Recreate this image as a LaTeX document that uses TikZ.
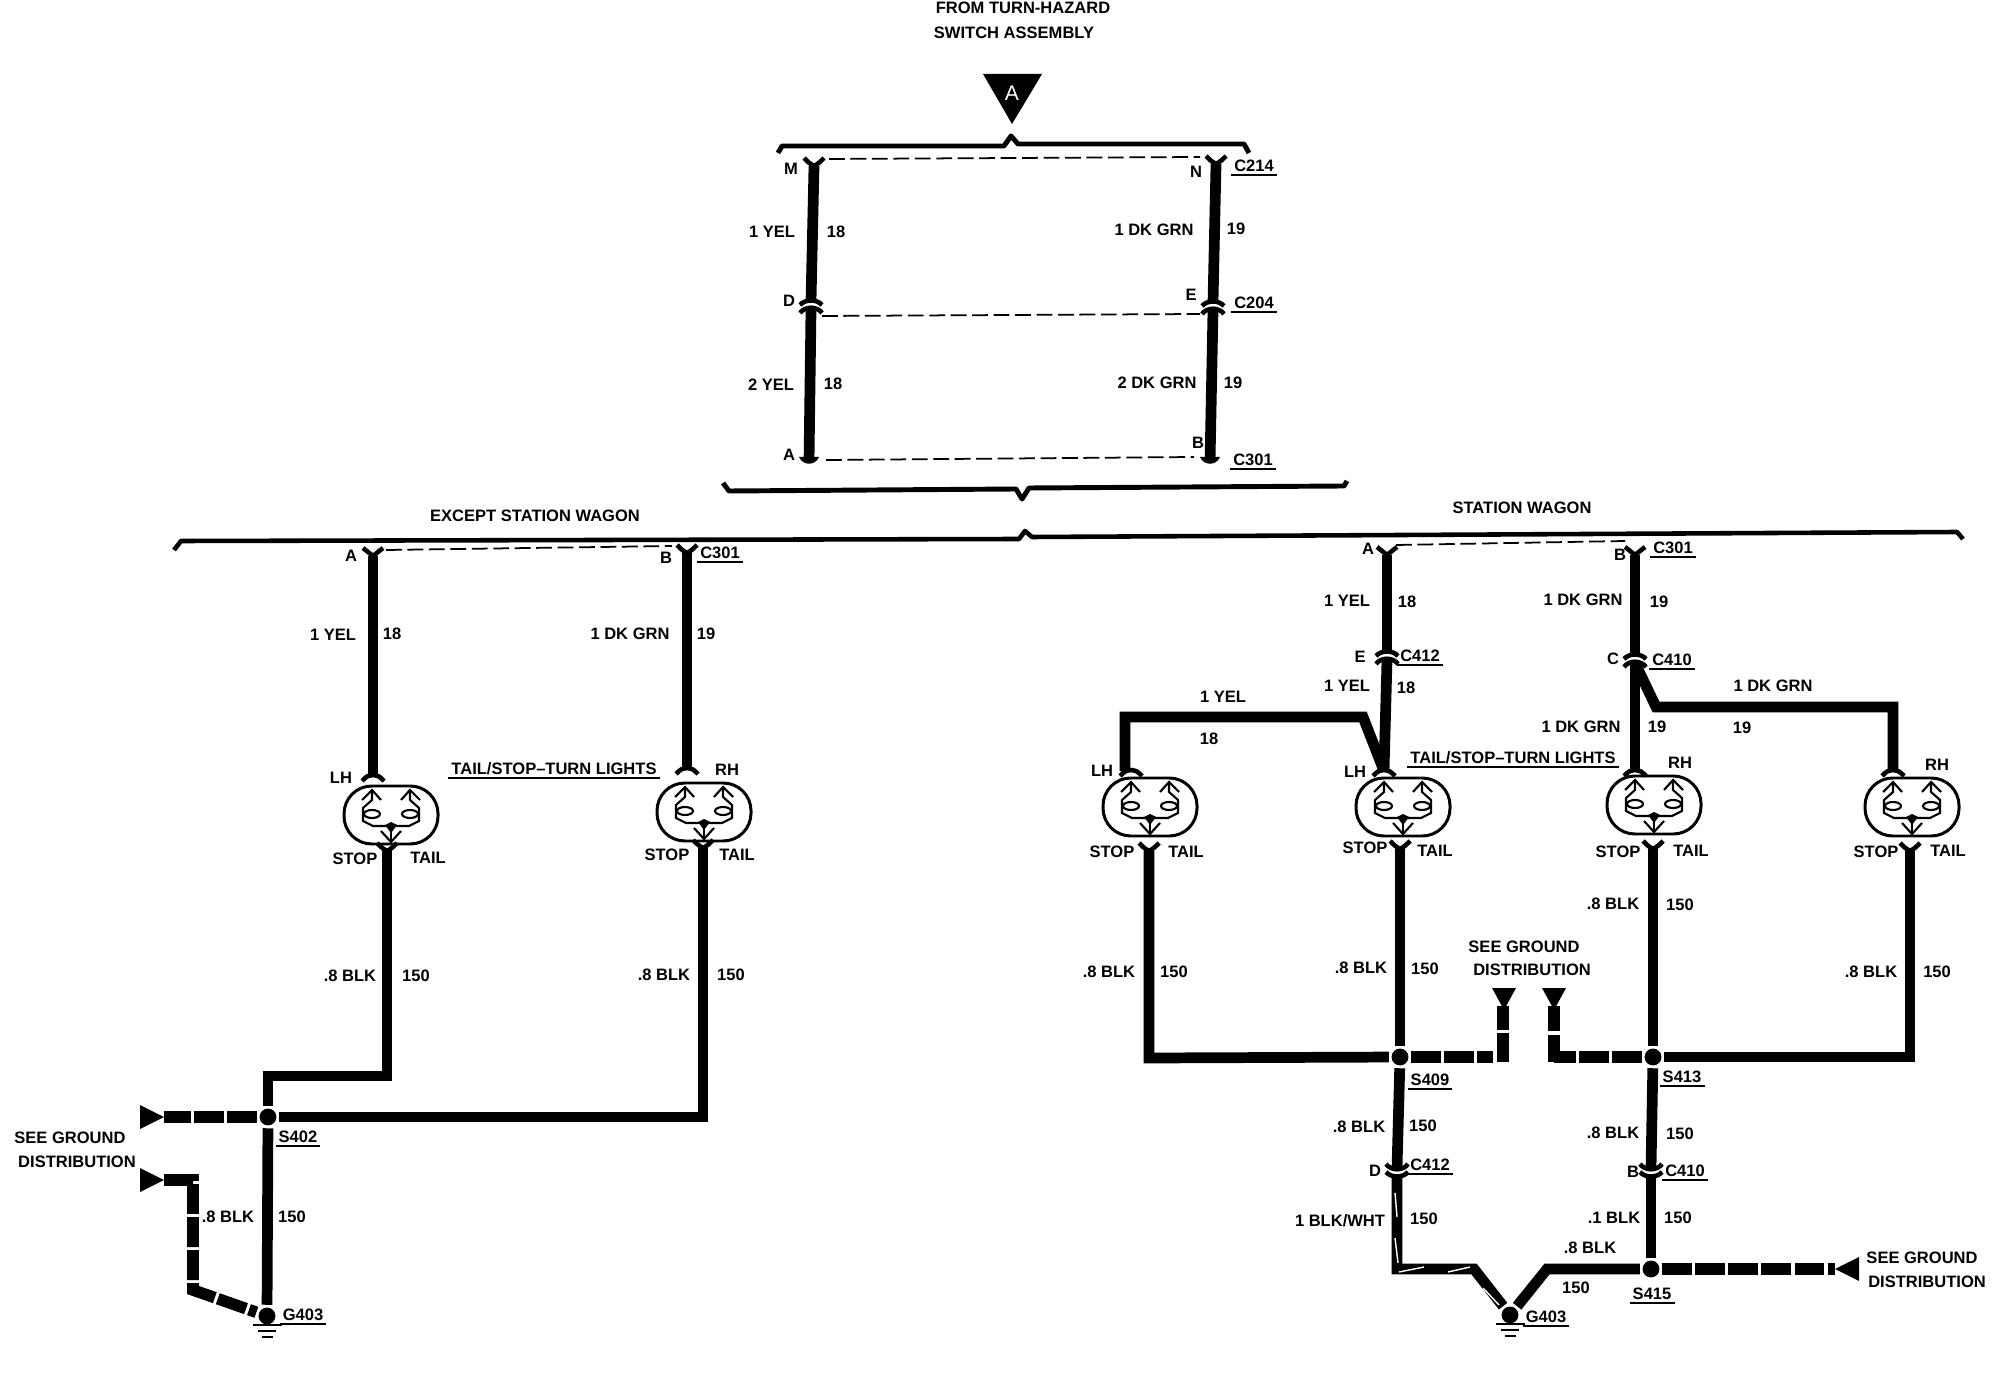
\documentclass[tikz,border=0pt]{standalone}
\usepackage{fontspec}
\setmainfont{Liberation Sans}
\tikzset{
	wire/.style={line width=3.05pt},
	gndwire/.style={line width=3.3pt,dash pattern=on 8.5pt off .9pt},
	gndstub/.style={line width=3.4pt},
	dashline/.style={line width=.5pt,dash pattern=on 4.5pt off 1.6pt},
	brace/.style={line width=1.4pt,line join=round},
	thinbrace/.style={line width=1.3pt,line join=round},
	fork/.style={line width=1.3pt},
	tracer/.style={white,line width=.4pt},
	wirelabel/.style={font=\bfseries\fontsize{4.7}{5.5}\selectfont,inner sep=.7pt},
	tagrule/.style={line width=.6pt},
	splice/.style={circle,fill,draw=none,inner sep=0pt,minimum size=4.8pt,outer sep=.8pt},
	gndbar/.style={line width=.6pt},
	forkup/.pic={\draw[fork] (-10,-8) .. controls (-5,-3) .. (0,0) .. controls (5,-3) .. (10,-8);\draw[line width=1.6pt] (0,-3) -- (0,3);},
	forkdown/.pic={\draw[fork] (-11,5) .. controls (-6,0) .. (0,-1) .. controls (6,0) .. (11,5);},
	forkcap/.pic={\fill (-10,-5) .. controls (-6,4) and (6,4) .. (10,-5) -- cycle;},
	inlinecap/.pic={
		\draw[fork] (-11,-2) .. controls (-6,-8) and (6,-8) .. (11,-2);
		\draw[fork] (-11,6) .. controls (-6,-1) and (6,-1) .. (11,6);
	},
	gndtri/.pic={\fill (0,0) -- (-24,-12) -- (-24,12) -- cycle;},
	gnddrop/.pic={\fill (0,0) -- (-12,-22) -- (12,-22) -- cycle;},
	taillamp/.pic={
		\draw[line width=.85pt,rounded corners=7.9pt] (-47,-29) rectangle (47,29);
		\foreach \s in {-1,1}
		{
			\draw[line width=.6pt] (\s*29,-15) -- (\s*19,-25) -- (\s*10,-15);
			\draw[line width=.6pt] (\s*19,-25) -- (\s*19,-15) -- (\s*28,-7) -- (\s*28,6) -- (\s*18,11) -- (\s*4,11);
			\draw[line width=.6pt] (\s*19,-1) ellipse (8 and 4);
		}
		\fill (-6,10) -- (0,7) -- (6,10) -- (0,18) -- cycle;
		\draw[line width=.6pt] (-10,16) -- (0,27) -- (10,16);
		\draw[line width=.6pt] (0,14) -- (0,27);
	}
}
\begin{document}
\begin{tikzpicture}[x=0.01cm,y=-0.01cm]
	\useasboundingbox (0,0) rectangle (1992,1392);

	\foreach \lx/\ly/\txt [count=\i] in {
		1023/8/FROM TURN-HAZARD,1014/33/SWITCH ASSEMBLY,
		791/169/M,1196/172/N,772/232/1 YEL,836/232/18,1154/230/1 DK GRN,1236/229/19,
		789/301/D,1191/295/E,771/385/2 YEL,833/384/18,1157/383/2 DK GRN,1233/383/19,
		789/455/A,1198/443/B,535/516/EXCEPT STATION WAGON,1522/508/STATION WAGON,
		351/556/A,666/558/B,333/635/1 YEL,392/634/18,630/634/1 DK GRN,706/634/19,
		341/778/LH,727/770/RH,355/859/STOP,428/858/TAIL,667/855/STOP,737/855/TAIL,
		350/976/.8 BLK,416/976/150,664/975/.8 BLK,731/975/150,
		70/1138/SEE GROUND,77/1162/DISTRIBUTION,228/1217/.8 BLK,292/1217/150,
		1368/549/A,1620/555/B,1347/601/1 YEL,1407/602/18,1583/600/1 DK GRN,1659/602/19,
		1360/657/E,1613/659/C,1347/686/1 YEL,1406/688/18,1223/697/1 YEL,1209/739/18,
		1773/686/1 DK GRN,1742/728/19,1581/727/1 DK GRN,1657/727/19,
		1102/771/LH,1355/772/LH,1680/763/RH,1937/765/RH,
		1112/852/STOP,1186/852/TAIL,1365/848/STOP,1435/851/TAIL,
		1618/852/STOP,1691/851/TAIL,1876/852/STOP,1948/851/TAIL,
		1109/972/.8 BLK,1174/972/150,1361/968/.8 BLK,1425/969/150,
		1613/904/.8 BLK,1680/905/150,1871/972/.8 BLK,1937/972/150,
		1524/947/SEE GROUND,1532/970/DISTRIBUTION,
		1359/1127/.8 BLK,1423/1126/150,1613/1133/.8 BLK,1680/1134/150,
		1375/1171/D,1633/1172/B,1340/1221/{1 BLK/WHT},1424/1219/150,
		1614/1218/.1 BLK,1678/1218/150,1590/1248/.8 BLK,1576/1288/150,
		1922/1258/SEE GROUND,1927/1282/DISTRIBUTION
	}
		\node[wirelabel] (lbl\i) at (\lx,\ly) {\txt};

	\foreach \lx/\ly/\txt [count=\i] in {
		1254/166/C214,1254/303/C204,1253/460/C301,720/553/C301,
		554/769/{TAIL/STOP--TURN LIGHTS},1513/758/{TAIL/STOP--TURN LIGHTS},
		298/1137/S402,303/1315/G403,1673/548/C301,1420/656/C412,1672/660/C410,
		1430/1080/S409,1682/1077/S413,1430/1165/C412,1685/1171/C410,
		1652/1294/S415,1546/1317/G403
	}
	{
		\node[wirelabel] (tag\i) at (\lx,\ly) {\txt};
		\draw[tagrule] (tag\i.south west) -- (tag\i.south east);
	}

	\fill (983,74) -- (1042,74) -- (1012,124) -- cycle;
	\node[font=\fontsize{6}{7}\selectfont,white,inner sep=0pt] (swA) at (1012,93) {A};
	\draw[brace] (778,153) -- (782,146) -- (1004,146) -- (1011,136) -- (1018,144) -- (1244,144) -- (1249,153);
	\draw[brace] (723,483) -- (729,491) -- (1016,489) -- (1022,499) -- (1029,488) -- (1344,486) -- (1347,481);
	\draw[thinbrace] (174,550) -- (181,541) -- (1019,539) -- (1025,531) -- (1032,537) -- (1957,532) -- (1963,539);

	\foreach \ax/\ay/\bx/\by [count=\i] in {
		829/159/1200/157,822/316/1200/314,826/460/1194/457,
		386/550/672/546,1396/545/1625/541
	}
	{
		\coordinate (dl\i) at (\ax,\ay);
		\coordinate (dr\i) at (\bx,\by);
		\draw[dashline] (dl\i) -- (dr\i);
	}

	\coordinate (M) at (814,166);
	\coordinate (Dup) at (811,301);
	\coordinate (Ddn) at (811,309);
	\coordinate (Aend) at (809,462);
	\coordinate (N) at (1216,164);
	\coordinate (Eup) at (1213,302);
	\coordinate (Edn) at (1213,310);
	\coordinate (Bend) at (1210,462);
	\draw[wire] (M) -- (Dup);
	\draw[wire] (Ddn) -- (Aend);
	\draw[wire] (N) -- (Eup);
	\draw[wire] (Edn) -- (Bend);
	\pic at (M) {forkup};
	\pic at (N) {forkup};
	\pic at (811,307) {inlinecap};
	\pic at (1213,308) {inlinecap};
	\pic at (Aend) {forkcap};
	\pic at (Bend) {forkcap};

	\foreach \lx/\ly [count=\i] in {391/815,704/812,1150/807,1403/807,1654/805,1912/807}
		\pic (lamp\i) at (\lx,\ly) {taillamp};

	\foreach \lx/\ly/\nm in {373/556/ta,687/553/tb,1387/555/tc,1635/555/td,
		387/851/fa,703/848/fb,1149/851/fc,1400/849/fd,1653/849/fe,1910/851/ff}
	{
		\coordinate (\nm) at (\lx,\ly);
		\pic at (\nm) {forkup};
	}
	\foreach \lx/\ly/\nm in {373/776/la,687/769/lb,1384/771/ld,1635/771/le,1893/771/lf}
	{
		\coordinate (\nm) at (\lx,\ly);
		\pic at (\nm) {forkdown};
	}
	\coordinate (lc) at (1125,771);
	\pic at (1131,771) {forkdown};

	\node[splice] (s402) at (268,1117) {};
	\node[splice] (g403a) at (267,1316) {};
	\node[splice] (s409) at (1400,1057) {};
	\node[splice] (s413) at (1653,1057) {};
	\node[splice] (s415) at (1651,1269) {};
	\node[splice] (g403b) at (1510,1315) {};

	\foreach \gx/\gy in {267/1316,1510/1315}
	{
		\draw[gndbar] (\gx-14,\gy+9) -- (\gx+15,\gy+9);
		\draw[gndbar] (\gx-9,\gy+15) -- (\gx+9,\gy+15);
		\draw[gndbar] (\gx-5,\gy+21) -- (\gx+6,\gy+21);
	}

	\draw[wire] (ta) -- (la);
	\draw[wire] (tb) -- (lb);
	\draw[wire] (fa) -- (387,1076) -- (268,1076) -- (s402);
	\draw[wire] (fb) -- (703,1117) -- (s402);
	\draw[wire] (s402) -- (g403a);

	\coordinate (gtipa) at (164,1117);
	\coordinate (gtipb) at (164,1180);
	\draw[gndwire] (s402) -- (gtipa);
	\draw[gndwire] (gtipb) -- (193,1180) -- (193,1290) -- (g403a);
	\pic at (gtipa) {gndtri};
	\pic at (gtipb) {gndtri};

	\coordinate (c412up) at (1387,652);
	\coordinate (c412dn) at (1387,660);
	\coordinate (c410up) at (1635,655);
	\coordinate (c410dn) at (1635,663);
	\draw[wire] (tc) -- (c412up);
	\draw[wire] (c412dn) -- (ld);
	\draw[wire] (td) -- (c410up);
	\draw[wire] (c410dn) -- (le);
	\pic at (1387,658) {inlinecap};
	\pic at (1635,661) {inlinecap};
	\draw[wire] (lc) -- (1125,717) -- (1363,717) -- (ld);
	\draw[wire] (c410dn) -- (1656,707) -- (1893,707) -- (lf);

	\draw[wire] (fc) -- (1149,1058) -- (s409);
	\draw[wire] (fd) -- (s409);
	\draw[wire] (fe) -- (s413);
	\draw[wire] (ff) -- (1910,1057) -- (s413);

	\coordinate (gtipc) at (1504,1010);
	\coordinate (gtipd) at (1554,1010);
	\coordinate (gtipe) at (1835,1269);
	\coordinate (stubc) at (1493,1057);
	\coordinate (gapc) at (1503,1033);
	\coordinate (gapd) at (1554,1035);
	\draw[gndwire] (s409) -- (stubc);
	\draw[gndstub] (1503,1062) -- (gapc);
	\draw[gndstub] (1503,1030) -- (1503,1006);
	\draw[gndwire] (s413) -- (1554,1057);
	\draw[gndstub] (1554,1062) -- (gapd);
	\draw[gndstub] (1554,1031) -- (1554,1006);
	\draw[gndwire] (s415) -- (gtipe);
	\pic at (gtipc) {gnddrop};
	\pic at (gtipd) {gnddrop};
	\pic[xscale=-1] at (gtipe) {gndtri};

	\coordinate (d412up) at (1397,1168);
	\coordinate (d412dn) at (1397,1176);
	\coordinate (b410up) at (1651,1168);
	\coordinate (b410dn) at (1651,1176);
	\draw[wire] (s409) -- (d412up);
	\draw[wire] (s413) -- (b410up);
	\draw[wire] (b410dn) -- (s415);
	\draw[wire] (d412dn) -- (1397,1269) -- (1474,1269) -- (g403b);
	\draw[wire] (s415) -- (1547,1269) -- (g403b);
	\pic[yscale=-1] at (1397,1170) {inlinecap};
	\pic[yscale=-1] at (1651,1170) {inlinecap};

	\foreach \ax/\ay/\bx/\by in {
		1395/1193/1397/1217,1395/1238/1398/1263,1399/1272/1424/1267,
		1448/1272/1470/1267,1483/1288/1499/1305
	}
		\draw[tracer] (\ax,\ay) -- (\bx,\by);
\end{tikzpicture}
\end{document}
